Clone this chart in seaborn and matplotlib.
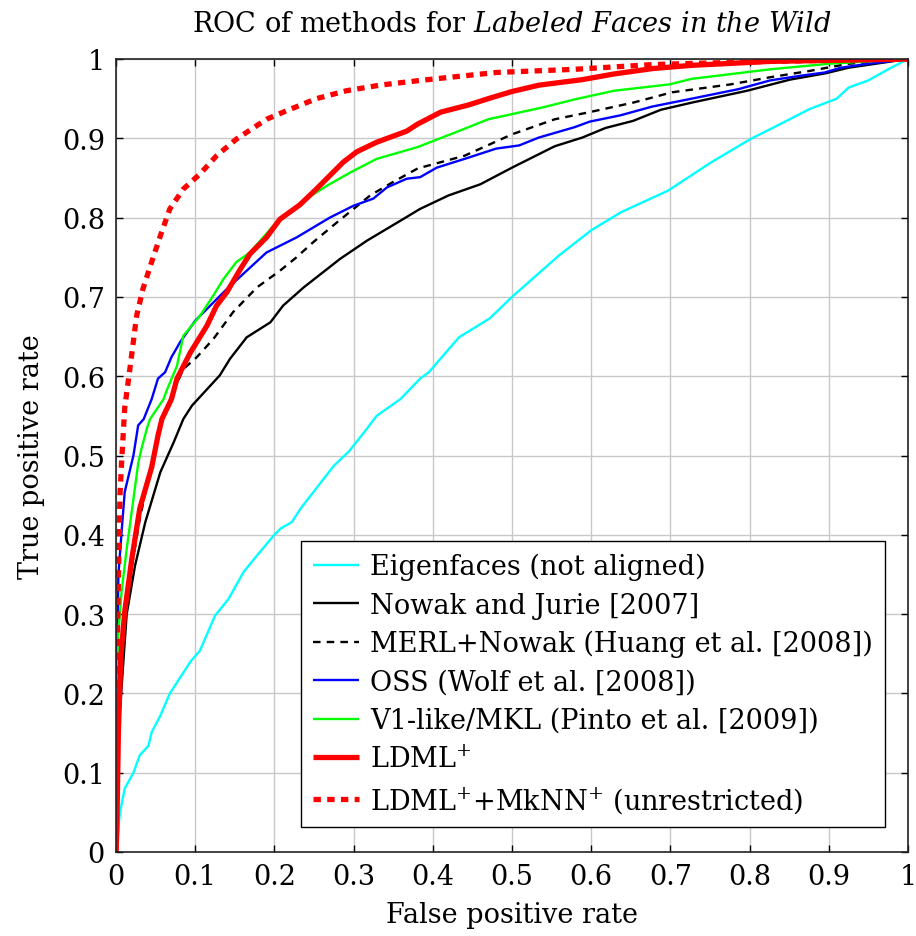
import numpy as np
import pandas as pd
import matplotlib
matplotlib.use("Agg")
import matplotlib.pyplot as plt
import seaborn as sns

# ---------------- data ----------------
eig_x = [0, 0.005, 0.011, 0.022, 0.03, 0.041, 0.045, 0.056, 0.068, 0.094, 0.106, 0.125, 0.142, 0.161,
         0.178, 0.20, 0.208, 0.222, 0.233, 0.275, 0.294, 0.317, 0.329, 0.359, 0.384, 0.395, 0.433, 0.472,
         0.50, 0.559, 0.60, 0.638, 0.697, 0.752, 0.801, 0.831, 0.876, 0.91, 0.925, 0.95, 0.975, 1.0]
eig_y = [0, 0.05, 0.08, 0.10, 0.122, 0.134, 0.151, 0.172, 0.20, 0.24, 0.254, 0.298, 0.319, 0.353,
         0.374, 0.40, 0.408, 0.416, 0.433, 0.487, 0.505, 0.534, 0.55, 0.571, 0.597, 0.605, 0.649, 0.673,
         0.70, 0.752, 0.784, 0.807, 0.834, 0.870, 0.899, 0.914, 0.937, 0.95, 0.964, 0.973, 0.987, 1.0]

nowak_x = [0, 0.003, 0.0135, 0.024, 0.037, 0.056, 0.073, 0.085, 0.096, 0.131, 0.144, 0.165, 0.195,
           0.211, 0.237, 0.283, 0.317, 0.359, 0.384, 0.42, 0.46, 0.50, 0.554, 0.589, 0.618, 0.653,
           0.688, 0.727, 0.797, 0.851, 0.896, 0.925, 1.0]
nowak_y = [0, 0.15, 0.30, 0.361, 0.416, 0.479, 0.517, 0.546, 0.563, 0.601, 0.622, 0.649, 0.668,
           0.689, 0.712, 0.748, 0.771, 0.796, 0.811, 0.828, 0.842, 0.863, 0.89, 0.901, 0.913, 0.922,
           0.936, 0.945, 0.96, 0.974, 0.982, 0.989, 1.0]

merl_x = [0, 0.003, 0.01, 0.02, 0.03, 0.045, 0.056, 0.07, 0.085, 0.102, 0.123, 0.148, 0.178, 0.207,
          0.228, 0.249, 0.279, 0.30, 0.321, 0.35, 0.381, 0.44, 0.50, 0.554, 0.598, 0.653, 0.702,
          0.776, 0.826, 0.876, 0.925, 1.0]
merl_y = [0, 0.17, 0.29, 0.36, 0.42, 0.49, 0.538, 0.575, 0.609, 0.624, 0.647, 0.681, 0.712, 0.733,
          0.75, 0.769, 0.794, 0.811, 0.828, 0.845, 0.862, 0.878, 0.905, 0.924, 0.933, 0.945, 0.958,
          0.968, 0.977, 0.985, 0.994, 1.0]

oss_x = [0, 0.001, 0.003, 0.007, 0.011, 0.022, 0.028, 0.035, 0.045, 0.053, 0.062, 0.07, 0.081, 0.10,
         0.123, 0.14, 0.165, 0.19, 0.228, 0.27, 0.30, 0.325, 0.342, 0.367, 0.384, 0.405, 0.44, 0.48,
         0.509, 0.534, 0.579, 0.598, 0.637, 0.677, 0.727, 0.786, 0.826, 0.865, 0.895, 0.915, 0.95, 1.0]
oss_y = [0, 0.2, 0.349, 0.403, 0.454, 0.50, 0.538, 0.546, 0.571, 0.597, 0.605, 0.624, 0.643, 0.67,
         0.693, 0.71, 0.733, 0.756, 0.775, 0.80, 0.815, 0.824, 0.838, 0.849, 0.851, 0.863, 0.874, 0.887,
         0.891, 0.901, 0.914, 0.921, 0.929, 0.94, 0.95, 0.962, 0.973, 0.979, 0.983, 0.989, 0.994, 1.0]

v1_x = [0, 0.003, 0.007, 0.0135, 0.022, 0.028, 0.032, 0.039, 0.043, 0.06, 0.064, 0.077, 0.085, 0.106,
        0.123, 0.136, 0.152, 0.169, 0.199, 0.216, 0.241, 0.266, 0.296, 0.329, 0.381, 0.43, 0.47,
        0.539, 0.579, 0.629, 0.699, 0.727, 0.826, 0.90, 1.0]
v1_y = [0, 0.277, 0.328, 0.382, 0.445, 0.49, 0.508, 0.534, 0.546, 0.571, 0.582, 0.613, 0.651, 0.676,
        0.702, 0.723, 0.744, 0.756, 0.79, 0.803, 0.824, 0.84, 0.857, 0.874, 0.889, 0.908, 0.924,
        0.939, 0.949, 0.96, 0.968, 0.975, 0.987, 0.994, 1.0]

ldml_x = [0, 0.001, 0.003, 0.006, 0.011, 0.02, 0.03, 0.045, 0.053, 0.058, 0.07, 0.077, 0.094, 0.115,
          0.127, 0.14, 0.157, 0.169, 0.19, 0.207, 0.232, 0.253, 0.27, 0.287, 0.304, 0.329, 0.367,
          0.381, 0.41, 0.445, 0.47, 0.50, 0.534, 0.589, 0.628, 0.678, 0.727, 0.826, 1.0]
ldml_y = [0, 0.025, 0.151, 0.244, 0.303, 0.37, 0.433, 0.485, 0.525, 0.546, 0.571, 0.597, 0.63, 0.664,
          0.689, 0.706, 0.735, 0.754, 0.775, 0.798, 0.816, 0.836, 0.853, 0.87, 0.883, 0.895, 0.909,
          0.918, 0.933, 0.942, 0.95, 0.959, 0.967, 0.974, 0.981, 0.988, 0.992, 0.997, 1.0]

mknn_x = [0, 0.001, 0.003, 0.005, 0.007, 0.011, 0.018, 0.026, 0.034, 0.045, 0.056, 0.068, 0.085,
          0.106, 0.127, 0.152, 0.19, 0.216, 0.253, 0.291, 0.333, 0.384, 0.48, 0.579, 0.678, 0.826, 1.0]
mknn_y = [0, 0.235, 0.34, 0.45, 0.49, 0.56, 0.613, 0.676, 0.71, 0.744, 0.777, 0.811, 0.836,
          0.855, 0.878, 0.899, 0.924, 0.935, 0.95, 0.96, 0.967, 0.973, 0.983, 0.987, 0.993, 0.997, 1.0]

labels = ["Eigenfaces (not aligned)",
          "Nowak and Jurie [2007]",
          "MERL+Nowak (Huang et al. [2008])",
          "OSS (Wolf et al. [2008])",
          "V1-like/MKL (Pinto et al. [2009])",
          r"LDML$^{+}$",
          r"LDML$^{+}$+MkNN$^{+}$ (unrestricted)"]
tick_vals = [0, 0.1, 0.2, 0.3, 0.4, 0.5, 0.6, 0.7, 0.8, 0.9, 1.0]
tick_labels = ["0", "0.1", "0.2", "0.3", "0.4", "0.5", "0.6", "0.7", "0.8", "0.9", "1"]

series = [(eig_x, eig_y), (nowak_x, nowak_y), (merl_x, merl_y), (oss_x, oss_y),
          (v1_x, v1_y), (ldml_x, ldml_y), (mknn_x, mknn_y)]

# ---------------- styles ----------------
styles = [
    dict(color="#00ffff", lw=1.7, ls="-"),
    dict(color="black", lw=1.7, ls="-"),
    dict(color="black", lw=1.7, ls=(0, (3.2, 2.6))),
    dict(color="#0000ff", lw=1.7, ls="-"),
    dict(color="#00ff00", lw=1.7, ls="-"),
    dict(color="#ff0000", lw=3.8, ls="-"),
    dict(color="#ff0000", lw=3.8, ls=(0, (1.4, 1.2))),
]

FS = 19.5
sns.set_theme(style="ticks")
plt.rcParams["font.family"] = ["DejaVu Serif"]
plt.rcParams["mathtext.fontset"] = "dejavuserif"
plt.rcParams["text.color"] = "black"
plt.rcParams["axes.labelcolor"] = "black"

fig = plt.figure(figsize=(9.16, 9.37), dpi=100)
ax = fig.add_axes([116 / 916, 1 - 853 / 937, 792 / 916, 793 / 937])

for (xs, ys), lab, st in zip(series, labels, styles):
    df = pd.DataFrame({"x": xs, "y": ys})
    sns.lineplot(data=df, x="x", y="y", ax=ax, color=st["color"], linewidth=st["lw"],
                 linestyle=st["ls"], label=lab, estimator=None, sort=False)

for line in ax.get_lines():
    line.set_dash_capstyle("butt")
    line.set_solid_capstyle("butt")

ax.set_xlim(0, 1)
ax.set_ylim(0, 1)
ax.set_xticks(tick_vals)
ax.set_xticklabels(tick_labels)
ax.set_yticks(tick_vals)
ax.set_yticklabels(tick_labels)
ax.tick_params(direction="in", length=5, width=1, top=True, right=True, labelsize=FS,
               colors="black")
ax.tick_params(axis="x", pad=8)
ax.tick_params(axis="y", pad=8)
ax.grid(True, color="#c8c8c8", linewidth=1.0)
ax.set_axisbelow(True)
for sp in ax.spines.values():
    sp.set_visible(True)
    sp.set_color("#222222")
    sp.set_linewidth(1.2)

ax.set_xlabel("False positive rate", fontsize=FS, labelpad=8, color="black")
ax.set_ylabel("True positive rate", fontsize=FS, labelpad=12, color="black")
ax.set_title(r"ROC of methods for $\mathit{Labeled\ Faces\ in\ the\ Wild}$", fontsize=FS, pad=20,
             color="black")

leg = ax.legend(loc="lower right", bbox_to_anchor=(0.971, 0.0315), borderaxespad=0,
                fontsize=FS, frameon=True, fancybox=False, framealpha=1, edgecolor="black",
                handlelength=1.7, handletextpad=0.4, labelspacing=0.42, borderpad=0.45)
leg.get_frame().set_linewidth(1.0)
leg.set_zorder(10)
for t in leg.get_texts():
    t.set_color("black")

fig.savefig("out.png", dpi=100)
